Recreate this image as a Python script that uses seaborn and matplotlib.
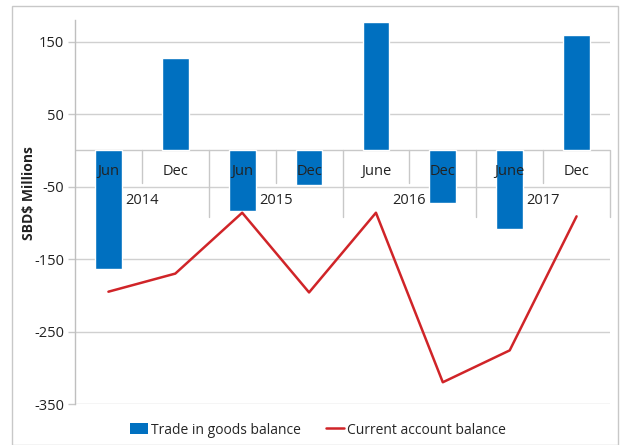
import matplotlib
matplotlib.use("Agg")
import matplotlib.pyplot as plt
import seaborn as sns
import pandas as pd
import numpy as np
from matplotlib.patches import Rectangle, Patch
from matplotlib.lines import Line2D

months = ["Jun", "Dec", "Jun", "Dec", "June", "Dec", "June", "Dec"]
years = ["2014", "2015", "2016", "2017"]
trade_goods = [-163, 128, -84, -48, 177, -73, -109, 159]
current_account = [-195, -170, -86, -196, -86, -320, -276, -91]
yticks = [150, 50, -50, -150, -250, -350]

sns.set_theme(style="white")
plt.rcParams["font.family"] = ["Open Sans", "DejaVu Sans"]

fig = plt.figure(figsize=(6.2, 4.45), dpi=100)
ax = fig.add_axes([75 / 620, 1 - 404 / 445, 535 / 620, 384 / 445])

pos = np.arange(len(months))
df = pd.DataFrame({"pos": pos, "trade": trade_goods, "ca": current_account})

sns.barplot(data=df, x="pos", y="trade", color="#0070C0", width=0.4,
            saturation=1, ax=ax, zorder=2)
sns.lineplot(data=df, x="pos", y="ca", color="#D02428", linewidth=1.8,
             ax=ax, zorder=3)

ax.set_xlim(-0.5, len(months) - 0.5)
ax.set_ylim(-350, 180)
ax.set_yticks(yticks)
ax.set_yticklabels([str(v) for v in yticks], fontsize=10.5, color="#222222")
ax.set_xticks([])
ax.set_xlabel("")
ax.set_ylabel("SBD$ Millions", fontsize=10, fontweight="bold", color="#222222")
ax.yaxis.set_label_coords(-0.072, 0.55)
ax.tick_params(axis="y", length=5, width=1, color="#C8C8C8", pad=3, direction="out", left=True)
for y in yticks:
    ax.axhline(y, color="#D0D0D0", linewidth=1, zorder=0)
ax.axhline(0, color="#C8C8C8", linewidth=1, zorder=1)

for s in ["top", "right", "bottom"]:
    ax.spines[s].set_visible(False)
ax.spines["left"].set_color("#BFBFBF")
ax.spines["left"].set_linewidth(1)

# category labels
for i, m in enumerate(months):
    ax.text(i, -29, m, ha="center", va="center", fontsize=10.5, color="#222222", zorder=4)
for j, yr in enumerate(years):
    ax.text(2 * j + 0.5, -69, yr, ha="center", va="center", fontsize=10.5, color="#222222", zorder=4)
# separators
for k in range(1, len(months)):
    bottom = -92 if k % 2 == 0 else -45
    ax.plot([k - 0.5, k - 0.5], [0, bottom], color="#C8C8C8", linewidth=1, zorder=1)
ax.plot([len(months) - 0.5] * 2, [0, -92], color="#C8C8C8", linewidth=1, zorder=1, clip_on=False)

handles = [Patch(facecolor="#0070C0", edgecolor="none", label="Trade in goods balance"),
           Line2D([0], [0], color="#D02428", linewidth=1.8, label="Current account balance")]
fig.legend(handles=handles, loc="center", bbox_to_anchor=(318 / 620, 1 - 430 / 445),
           ncol=2, frameon=False, fontsize=10, handlelength=1.3, handleheight=0.8,
           columnspacing=1.8, handletextpad=0.2)

fig.patches.append(Rectangle((12 / 620, 0), 1 - 12 / 620 - 2 / 620, 1 - 6 / 445,
                             transform=fig.transFigure, fill=False,
                             edgecolor="#C8C8C8", linewidth=1))

fig.savefig("out.png", dpi=100)
